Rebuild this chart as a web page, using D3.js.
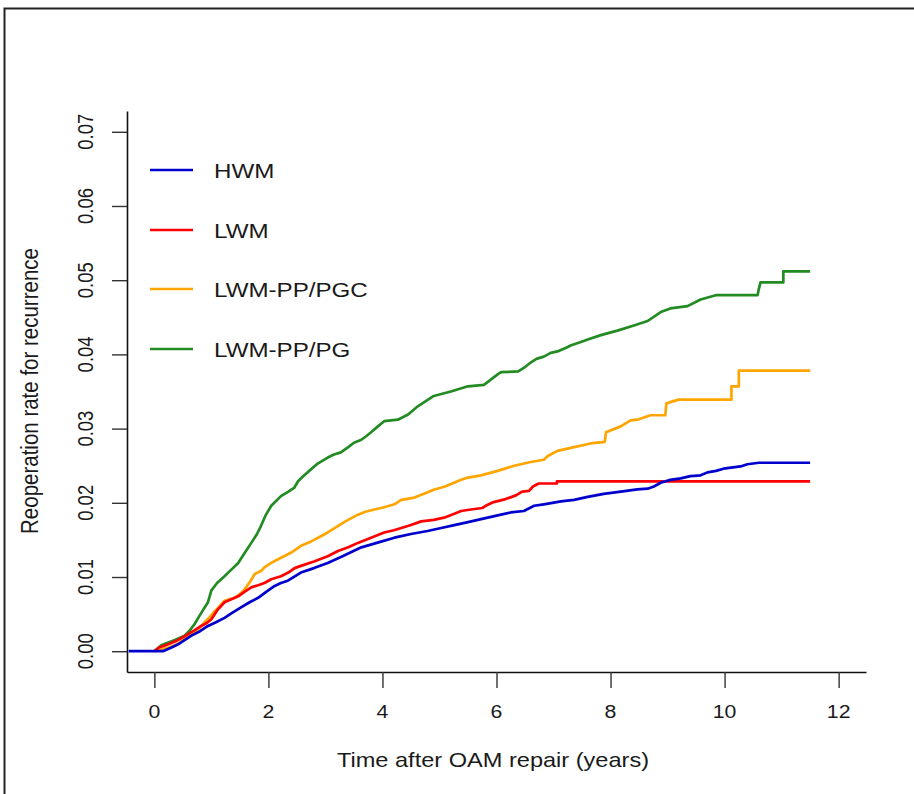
<!DOCTYPE html>
<html>
<head>
<meta charset="utf-8">
<script src="https://cdn.jsdelivr.net/npm/d3@7"></script>
<style>
  body { margin: 0; background: #fff; }
  svg text { font-family: "Liberation Sans", Arial, sans-serif; fill: #1a1a1a; }
</style>
</head>
<body>
<script>
// time points (years) and cumulative reoperation rates;
// a repeated time marks a visible jump of the curve
let hwmT = [-0.45, 0.15, 0.3, 0.41, 0.53, 0.65, 0.8, 0.94, 1.08, 1.23, 1.37, 1.52, 1.67, 1.82, 1.96, 2.11, 2.22, 2.34, 2.57, 2.8,
    3.04, 3.3, 3.63, 3.9, 4.21, 4.5, 4.79, 5.03, 5.26, 5.5, 5.73, 6.02, 6.25, 6.48, 6.66, 6.83, 7.13, 7.36, 7.6, 7.88,
    8.18, 8.47, 8.65, 8.76, 8.88, 9.05, 9.23, 9.4, 9.58, 9.7, 9.85, 9.98, 10.28, 10.4, 10.6, 11.5]
let hwmV = [0, 0, 0.0005, 0.0009, 0.0015, 0.0021, 0.0027, 0.0034, 0.0039, 0.0045, 0.0052, 0.0059, 0.0066, 0.0072, 0.008, 0.0088, 0.0092, 0.0095, 0.0106, 0.0112,
    0.0119, 0.0128, 0.014, 0.0146, 0.0153, 0.0158, 0.0162, 0.0166, 0.017, 0.0174, 0.0178, 0.0183, 0.0187, 0.0189, 0.0196, 0.0198, 0.0202, 0.0204, 0.0208, 0.0212,
    0.0215, 0.0218, 0.0219, 0.0222, 0.0227, 0.0231, 0.0233, 0.0236, 0.0237, 0.0241, 0.0243, 0.0246, 0.0249, 0.0252, 0.0254, 0.0254]

let lwmT = [0, 0.08, 0.2, 0.36, 0.48, 0.59, 0.7, 0.82, 0.92, 1.0, 1.1, 1.23, 1.35, 1.47, 1.58, 1.7, 1.82, 1.93, 2.05, 2.22,
    2.35, 2.46, 2.57, 2.8, 3.04, 3.22, 3.4, 3.57, 3.8, 4.03, 4.2, 4.33, 4.5, 4.68, 4.9, 5.08, 5.25, 5.38, 5.55, 5.75,
    5.81, 5.95, 6.16, 6.34, 6.45, 6.57, 6.64, 6.74, 7.06, 7.06, 11.5]
let lwmV = [0, 0.0005, 0.0008, 0.0013, 0.0018, 0.0023, 0.0028, 0.0034, 0.0038, 0.0043, 0.0055, 0.0066, 0.007, 0.0074, 0.008, 0.0086, 0.0089, 0.0092, 0.0097, 0.0101,
    0.0106, 0.0112, 0.0115, 0.0121, 0.0128, 0.0135, 0.014, 0.0146, 0.0153, 0.016, 0.0163, 0.0166, 0.017, 0.0175, 0.0177, 0.018, 0.0185, 0.0189, 0.0191, 0.0193,
    0.0196, 0.0201, 0.0205, 0.021, 0.0215, 0.0216, 0.0222, 0.0226, 0.0226, 0.0229, 0.0229]

let pgcT = [0, 0.1, 0.25, 0.36, 0.45, 0.53, 0.62, 0.7, 0.8, 0.88, 0.97, 1.06, 1.15, 1.23, 1.41, 1.5, 1.58, 1.68, 1.76, 1.87,
    1.93, 2.05, 2.17, 2.3, 2.4, 2.57, 2.75, 2.92, 3.04, 3.16, 3.35, 3.57, 3.7, 3.86, 4.03, 4.21, 4.33, 4.56, 4.75, 4.91,
    5.1, 5.38, 5.5, 5.73, 6.02, 6.31, 6.6, 6.83, 6.9, 7.07, 7.36, 7.65, 7.9, 7.92, 8.18, 8.35, 8.47, 8.7, 8.96, 8.98,
    9.19, 10.12, 10.12, 10.25, 10.25, 11.5]
let pgcV = [0, 0.0002, 0.0005, 0.0008, 0.0012, 0.0018, 0.0022, 0.0025, 0.0032, 0.0039, 0.0046, 0.0054, 0.0061, 0.0068, 0.0072, 0.0077, 0.0083, 0.0094, 0.0104, 0.0108,
    0.0113, 0.0119, 0.0124, 0.0129, 0.0133, 0.0142, 0.0148, 0.0155, 0.016, 0.0166, 0.0175, 0.0184, 0.0188, 0.0191, 0.0194, 0.0198, 0.0204, 0.0207, 0.0213, 0.0218,
    0.0222, 0.0231, 0.0234, 0.0237, 0.0243, 0.025, 0.0255, 0.0258, 0.0263, 0.027, 0.0275, 0.028, 0.0282, 0.0295, 0.0303, 0.0311, 0.0312, 0.0318, 0.0318, 0.0334,
    0.0339, 0.0339, 0.0357, 0.0357, 0.0378, 0.0378]

let pgT = [0, 0.06, 0.12, 0.36, 0.53, 0.62, 0.7, 0.77, 0.85, 0.94, 1.0, 1.1, 1.23, 1.35, 1.47, 1.58, 1.7, 1.8, 1.87, 1.95,
    2.05, 2.22, 2.35, 2.45, 2.52, 2.6, 2.7, 2.85, 3.04, 3.15, 3.27, 3.4, 3.5, 3.63, 3.72, 3.8, 3.92, 4.03, 4.27, 4.45,
    4.62, 4.8, 4.9, 5.05, 5.2, 5.5, 5.78, 6.02, 6.08, 6.38, 6.5, 6.6, 6.7, 6.83, 6.95, 7.07, 7.25, 7.3, 7.53, 7.6,
    7.83, 8.12, 8.41, 8.65, 8.88, 9.05, 9.35, 9.58, 9.86, 10.58, 10.6, 10.63, 11.03, 11.03, 11.5]
let pgV = [0, 0.0004, 0.0008, 0.0015, 0.0021, 0.0028, 0.0036, 0.0045, 0.0055, 0.0066, 0.0082, 0.0092, 0.0101, 0.011, 0.0119, 0.0132, 0.0146, 0.0158, 0.0169, 0.0183,
    0.0196, 0.0209, 0.0215, 0.022, 0.0229, 0.0235, 0.0242, 0.0252, 0.0261, 0.0265, 0.0268, 0.0275, 0.0281, 0.0285, 0.029, 0.0295, 0.0303, 0.031, 0.0312, 0.0319,
    0.033, 0.0339, 0.0344, 0.0347, 0.035, 0.0357, 0.0359, 0.0373, 0.0376, 0.0377, 0.0383, 0.0389, 0.0394, 0.0397, 0.0402, 0.0404, 0.041, 0.0412, 0.0418, 0.042,
    0.0426, 0.0432, 0.0439, 0.0445, 0.0457, 0.0462, 0.0465, 0.0474, 0.048, 0.048, 0.0488, 0.0497, 0.0497, 0.0512, 0.0512]

let seriesNames = ['HWM', 'LWM', 'LWM-PP/PGC', 'LWM-PP/PG']
let seriesColors = ['#0000cd', '#ff0000', '#ffa500', '#228b22']
let xTicks = [0, 2, 4, 6, 8, 10, 12]
let yTicks = [0, 0.01, 0.02, 0.03, 0.04, 0.05, 0.06, 0.07]

{
    let width = 914
    let height = 794
    let sx = 1.15   // the picture is a bit stretched sideways
    let svg = d3.select('body').append('svg')
        .attr('width', width)
        .attr('height', height)

    // outer frame (only left and top edges are visible)
    svg.append('path')
        .attr('d', 'M4.5,' + height + 'V8.5H' + width)
        .attr('fill', 'none')
        .attr('stroke', '#222')
        .attr('stroke-width', 2)

    let x = d3.scaleLinear().domain([-0.48, 12.48]).range([127, 866])
    let y = d3.scaleLinear().domain([-0.0028, 0.0728]).range([672, 111])

    // axes, R style with bty = "l"
    svg.append('g')
        .attr('transform', 'translate(0,672)')
        .call(d3.axisBottom(x).tickValues(xTicks).tickSizeInner(16).tickSizeOuter(0).tickFormat(''))
    svg.append('g')
        .attr('transform', 'translate(127,0)')
        .call(d3.axisLeft(y).tickValues(yTicks).tickSizeInner(15).tickSizeOuter(0).tickFormat(''))
    svg.selectAll('.domain').attr('stroke', '#111').attr('stroke-width', 1.6)
    svg.selectAll('.tick line').attr('stroke', '#333').attr('stroke-width', 1.4)

    svg.append('g').selectAll('text').data(xTicks)
        .enter()
        .append('text')
        .attr('transform', d => 'translate(' + x(d) + ',718) scale(' + sx + ',1)')
        .attr('text-anchor', 'middle')
        .attr('font-size', 18.5)
        .text(d => d)
    svg.append('g').selectAll('text').data(yTicks)
        .enter()
        .append('text')
        .attr('transform', d => 'translate(85,' + y(d) + ') scale(' + sx + ',1) rotate(-90)')
        .attr('text-anchor', 'middle')
        .attr('dy', '0.36em')
        .attr('font-size', 18.5)
        .text(d => d.toFixed(2))

    svg.append('text')
        .attr('transform', 'translate(493,767) scale(' + sx + ',1)')
        .attr('text-anchor', 'middle')
        .attr('font-size', 20.5)
        .text('Time after OAM repair (years)')
    svg.append('text')
        .attr('transform', 'translate(30,391) scale(' + sx + ',1) rotate(-90)')
        .attr('text-anchor', 'middle')
        .attr('dy', '0.36em')
        .attr('font-size', 20.5)
        .text('Reoperation rate for recurrence')

    // curves, drawn point to point; repeated times give the steps
    let data = [
        d3.zip(pgT, pgV),
        d3.zip(pgcT, pgcV),
        d3.zip(lwmT, lwmV),
        d3.zip(hwmT, hwmV)
    ]
    let colors = [seriesColors[3], seriesColors[2], seriesColors[1], seriesColors[0]]
    let line = d3.line()
        .x(d => x(d[0]))
        .y(d => y(d[1]))
    svg.selectAll('path.line').data(data)
        .enter()
        .append('path')
        .attr('class', 'line')
        .attr('d', d => line(d))
        .attr('stroke', (d, i) => colors[i])
        .attr('stroke-width', 2.7)
        .attr('stroke-linejoin', 'round')
        .attr('fill', 'none')

    // legend
    let rowY = [170, 230, 289, 349]
    let legend = svg.append('g').selectAll('g').data(seriesNames)
        .enter()
        .append('g')
        .attr('transform', (d, i) => 'translate(0,' + rowY[i] + ')')
    legend.append('line')
        .attr('x1', 150)
        .attr('x2', 193)
        .attr('stroke', (d, i) => seriesColors[i])
        .attr('stroke-width', 2.6)
    legend.append('text')
        .attr('transform', 'translate(214,0) scale(' + sx + ',1)')
        .attr('dy', '0.36em')
        .attr('font-size', 21)
        .text(d => d)
}
</script>
</body>
</html>
